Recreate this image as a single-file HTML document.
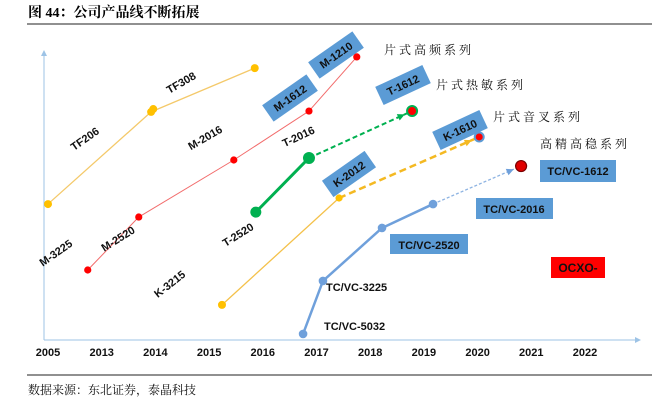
<!DOCTYPE html>
<html><head><meta charset="utf-8"><style>
body{margin:0;background:#fff;width:652px;height:410px;overflow:hidden;font-family:"Liberation Sans","Noto Sans CJK SC",sans-serif;}
svg text{font-family:"Liberation Sans","Noto Sans CJK SC",sans-serif;}
svg text.serif{font-family:"Liberation Serif","Noto Serif CJK SC",serif;}
</style></head><body>
<svg width="652" height="410">
<text class="serif" x="28" y="17" font-size="14" font-weight="bold">图  44：公司产品线不断拓展</text>
<line x1="27" y1="24" x2="652" y2="24" stroke="#222" stroke-width="1"/>
<line x1="44" y1="340" x2="44" y2="52" stroke="#9dc3e6" stroke-width="1"/>
<polygon points="44,50 41,56 47,56" fill="#9dc3e6"/>
<line x1="44" y1="340" x2="638" y2="340" stroke="#9dc3e6" stroke-width="1"/>
<polygon points="641,340 635,337 635,343" fill="#9dc3e6"/>
<g id="ticks"></g>
<g id="lines"></g>
<g id="labels" font-weight="bold" font-size="11" fill="#111">
<text transform="translate(183,86) rotate(-30)" text-anchor="middle">TF308</text>
<text transform="translate(87,142) rotate(-35)" text-anchor="middle">TF206</text>
<text transform="translate(207,141) rotate(-30)" text-anchor="middle">M-2016</text>
<text transform="translate(120,242) rotate(-32)" text-anchor="middle">M-2520</text>
<text transform="translate(58,256) rotate(-35)" text-anchor="middle">M-3225</text>
<text transform="translate(300,140) rotate(-25)" text-anchor="middle">T-2016</text>
<text transform="translate(240,238) rotate(-32)" text-anchor="middle">T-2520</text>
<text transform="translate(172,287) rotate(-38)" text-anchor="middle">K-3215</text>
<text x="326" y="291">TC/VC-3225</text>
<text x="324" y="330">TC/VC-5032</text>
<g transform="translate(290,98) rotate(-35)"><rect x="-27" y="-10" width="54" height="20" fill="#5b9bd5"/><text y="4" text-anchor="middle">M-1612</text></g>
<g transform="translate(336,55) rotate(-35)"><rect x="-27" y="-10" width="54" height="20" fill="#5b9bd5"/><text y="4" text-anchor="middle">M-1210</text></g>
<g transform="translate(403,85) rotate(-25)"><rect x="-26" y="-10" width="52" height="20" fill="#5b9bd5"/><text y="4" text-anchor="middle">T-1612</text></g>
<g transform="translate(460,130) rotate(-25)"><rect x="-26" y="-10" width="52" height="20" fill="#5b9bd5"/><text y="4" text-anchor="middle">K-1610</text></g>
<g transform="translate(349,174) rotate(-35)"><rect x="-26" y="-10" width="52" height="20" fill="#5b9bd5"/><text y="4" text-anchor="middle">K-2012</text></g>
<g><rect x="540" y="160" width="76" height="22" fill="#5b9bd5"/><text x="578" y="175" text-anchor="middle">TC/VC-1612</text></g>
<g><rect x="476" y="198" width="77" height="21" fill="#5b9bd5"/><text x="514" y="213" text-anchor="middle">TC/VC-2016</text></g>
<g><rect x="390" y="234" width="78" height="20" fill="#5b9bd5"/><text x="429" y="249" text-anchor="middle">TC/VC-2520</text></g>
<g><rect x="551" y="257" width="54" height="21" fill="#ff0000"/><text x="578" y="272" text-anchor="middle" font-size="12">OCXO-</text></g>
</g>
<g font-size="12" fill="#111">
<text class="serif" x="384" y="54">片 式 高 频 系 列</text>
<text class="serif" x="436" y="89">片 式 热 敏 系 列</text>
<text class="serif" x="493" y="121">片 式 音 叉 系 列</text>
<text class="serif" x="540" y="148">高 精 高 稳 系 列</text>
</g>
<line x1="27" y1="375" x2="652" y2="375" stroke="#222" stroke-width="1"/>
<text class="serif" x="28" y="394" font-size="12" fill="#111">数据来源：东北证券，泰晶科技</text>
</svg>
<script>
const years=["2005","2013","2014","2015","2016","2017","2018","2019","2020","2021","2022"];
const tfX=[0,1.92,3.85];
const tfY=[47.2,79.2,94.4];
const mX=[0.74,1.69,3.46,4.86,5.75];
const mY=[24.3,42.7,62.5,79.5,98.3];
const tX=[3.87,4.86,6.78];
const tY=[44.4,63.2,79.5];
const kX=[3.24,5.42,8.03];
const kY=[12.2,49.3,70.5];
const tcX=[4.75,5.12,6.22,7.17,8.81];
const tcY=[2.1,20.5,38.9,47.2,60.4];
const NS="http://www.w3.org/2000/svg";
function sx(i){return 48+i*53.7;}
function sy(v){return 340-v*2.88;}
function mk(tag,attrs,parent){const e=document.createElementNS(NS,tag);for(const k in attrs)e.setAttribute(k,attrs[k]);parent.appendChild(e);return e;}
const tk=document.getElementById('ticks');
years.forEach((y,i)=>{const t=mk('text',{x:sx(i),y:356,'text-anchor':'middle','font-size':'11','font-weight':'bold',fill:'#111'},tk);t.textContent=y;

});
const L=document.getElementById('lines');
function seg(xs,ys,a,b,col,w,dash,name){const l=mk('line',{x1:sx(xs[a]),y1:sy(ys[a]),x2:sx(xs[b]),y2:sy(ys[b]),stroke:col,'stroke-width':w},L);if(dash)l.setAttribute('stroke-dasharray',dash);

return l;}
function dot(xs,ys,i,r,fill,stroke,sw,name){const c=mk('circle',{cx:sx(xs[i]),cy:sy(ys[i]),r:r,fill:fill},L);if(stroke){c.setAttribute('stroke',stroke);c.setAttribute('stroke-width',sw);}

}
function arrow(xs,ys,i,col,name){const x2=sx(xs[i]),y2=sy(ys[i]),x1=sx(xs[i-1]),y1=sy(ys[i-1]);const a=Math.atan2(y2-y1,x2-x1);const ex=x2-8*Math.cos(a),ey=y2-8*Math.sin(a);
const p=mk('polygon',{points:`${ex},${ey} ${ex-8*Math.cos(a-0.45)},${ey-8*Math.sin(a-0.45)} ${ex-8*Math.cos(a+0.45)},${ey-8*Math.sin(a+0.45)}`,fill:col},L);

}
seg(tfX,tfY,0,1,'#f4c96a',1.3,null,'tf-line-1');seg(tfX,tfY,1,2,'#f4c96a',1.3,null,'tf-line-2');
tfX.forEach((_,i)=>dot(tfX,tfY,i,4,'#ffc000',null,0,'tf-point-'+i));
dot([tfX[1]+0.04],[tfY[1]+1],0,4,'#ffc000',null,0,'tf-point-extra');
for(let i=0;i<mX.length-1;i++)seg(mX,mY,i,i+1,'#f26b6b',1,null,'m-line-'+i);
mX.forEach((_,i)=>dot(mX,mY,i,3.6,'#ff0000',null,0,'m-point-'+i));
seg(kX,kY,0,1,'#f4c14a',1.3,null,'k-line-1');
seg(kX,kY,1,2,'#f4b922',2.5,'7,4','k-line-future');
arrow(kX,kY,2,'#f4b922','k-arrow');
dot(kX,kY,0,4,'#ffc000',null,0,'k-point-0');dot(kX,kY,1,3.6,'#ffc000',null,0,'k-point-1');
dot(kX,kY,2,4.5,'#ff0000','#5b9bd5',2,'k-point-future');
seg(tX,tY,0,1,'#00b050',3,null,'t-line-1');
seg(tX,tY,1,2,'#00b050',2,'5,3','t-line-future');
arrow(tX,tY,2,'#00b050','t-arrow');
dot(tX,tY,0,5.5,'#00b050',null,0,'t-point-0');dot(tX,tY,1,6,'#00b050',null,0,'t-point-1');
dot(tX,tY,2,5,'#ff0000','#00b050',2,'t-point-future');
for(let i=0;i<3;i++)seg(tcX,tcY,i,i+1,'#6fa0db',2.5,null,'tc-line-'+i);
seg(tcX,tcY,3,4,'#8db3e2',1.3,'3,2','tc-line-future');
arrow(tcX,tcY,4,'#6fa0db','tc-arrow');
for(let i=0;i<4;i++)dot(tcX,tcY,i,4.3,'#6fa0db',null,0,'tc-point-'+i);
dot(tcX,tcY,4,5.5,'#e00000','#7a0000',1.2,'tc-point-future');
</script>
</body></html>
